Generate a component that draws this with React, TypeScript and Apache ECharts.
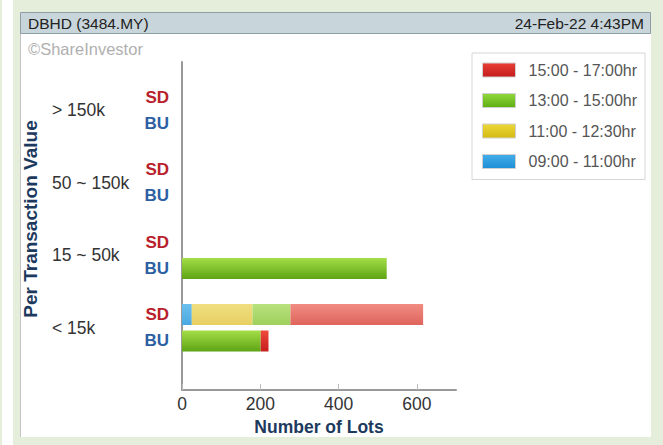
import React, { useEffect, useRef } from 'react';
import * as echarts from 'echarts';

const categories = ['> 150k', '50 ~ 150k', '15 ~ 50k', '< 15k'];
const periods = ['09:00 - 11:00hr', '11:00 - 12:30hr', '13:00 - 15:00hr', '15:00 - 17:00hr'];
const legendOrder = ['15:00 - 17:00hr', '13:00 - 15:00hr', '11:00 - 12:30hr', '09:00 - 11:00hr'];

// Sell Down (SD) lots per period
const sd0900 = [0, 0, 0, 25];
const sd1100 = [0, 0, 0, 155];
const sd1300 = [0, 0, 0, 97];
const sd1500 = [0, 0, 0, 339];
// Buy Up (BU) lots per period
const bu0900 = [0, 0, 0, 0];
const bu1100 = [0, 0, 0, 0];
const bu1300 = [0, 0, 523, 201];
const bu1500 = [0, 0, 0, 20];

const xTicks = [0, 200, 400, 600];
const xMax = 700;

const FONT = '"Liberation Sans", Arial, sans-serif';

const grad = (a: string, b: string) =>
  new echarts.graphic.LinearGradient(0, 0, 0, 1, [
    { offset: 0, color: a },
    { offset: 1, color: b },
  ]);

const buColors: [string, string][] = [
  ['#45b0ec', '#1f8fd6'],
  ['#eedb40', '#d8be12'],
  ['#a4de48', '#5ea414'],
  ['#ee4a3c', '#c61e1e'],
];
const sdColors: [string, string][] = [
  ['#6cc0ee', '#4aa8e0'],
  ['#f0de80', '#e6cf62'],
  ['#b8e27e', '#9ed05c'],
  ['#f08c82', '#df645c'],
];
const legendColors: Record<string, [string, string]> = {
  '15:00 - 17:00hr': ['#e84036', '#c41c1c'],
  '13:00 - 15:00hr': ['#92d83c', '#5eae12'],
  '11:00 - 12:30hr': ['#ecd83a', '#d4ba10'],
  '09:00 - 11:00hr': ['#44aeea', '#1e8ed6'],
};

export default function App() {
  const ref = useRef<HTMLDivElement>(null);

  useEffect(() => {
    if (!ref.current) return;
    const chart = echarts.init(ref.current, null, { renderer: 'svg' });
    const sdData = [sd0900, sd1100, sd1300, sd1500];
    const buData = [bu0900, bu1100, bu1300, bu1500];

    const series: any[] = [
      ...periods.map((p, i) => ({
        type: 'bar',
        name: p,
        stack: 'SD',
        xAxisIndex: 1,
        yAxisIndex: 1,
        barWidth: 21,
        barGap: '26%',
        data: sdData[i],
        itemStyle: { color: grad(sdColors[i][0], sdColors[i][1]) },
        emphasis: { disabled: true },
      })),
      ...periods.map((p, i) => ({
        type: 'bar',
        name: p,
        stack: 'BU',
        xAxisIndex: 1,
        yAxisIndex: 1,
        barWidth: 21,
        barGap: '26%',
        data: buData[i],
        itemStyle: { color: grad(buColors[i][0], buColors[i][1]) },
        emphasis: { disabled: true },
      })),
    ];

    chart.setOption({
      animation: false,
      backgroundColor: '#e4eedb',
      textStyle: { fontFamily: FONT },
      graphic: [
        { type: 'rect', z: -10, shape: { x: 2, y: 0, width: 11, height: 445 }, style: { fill: '#ffffff' } },
        { type: 'rect', z: -10, shape: { x: 20, y: 12, width: 631, height: 425 }, style: { fill: '#ffffff' } },
        { type: 'line', z: -9, shape: { x1: 20.5, y1: 33, x2: 20.5, y2: 437 }, style: { stroke: '#c4c4c4', lineWidth: 1 } },
        { type: 'rect', z: -9, shape: { x: 20.5, y: 12.5, width: 630, height: 21 }, style: { fill: '#c8d5db', stroke: '#8f9ea6', lineWidth: 1 } },
        { type: 'text', z: -8, x: 28, y: 23.5, style: { text: 'DBHD (3484.MY)', fill: '#222', fontSize: 15.5, fontFamily: FONT, verticalAlign: 'middle', align: 'left' } },
        { type: 'text', z: -8, x: 644, y: 23.5, style: { text: '24-Feb-22 4:43PM', fill: '#222', fontSize: 15.5, fontFamily: FONT, verticalAlign: 'middle', align: 'right' } },
        { type: 'text', z: -8, x: 28, y: 49, style: { text: '©ShareInvestor', fill: '#b0b0b0', fontSize: 16.5, fontFamily: FONT, verticalAlign: 'middle', align: 'left' } },
      ],
      legend: {
        orient: 'vertical',
        left: 472,
        top: 53,
        padding: [9, 8, 10, 10],
        itemWidth: 33,
        itemHeight: 14,
        itemGap: 14.5,
        icon: 'rect',
        backgroundColor: '#ffffff',
        borderColor: '#d6d6d6',
        borderWidth: 1,
        selectedMode: false,
        textStyle: { fontSize: 16, color: '#555', fontFamily: FONT, lineHeight: 16, padding: [0, 0, 0, 8] },
        data: legendOrder.map((n) => ({
          name: n,
          itemStyle: { color: grad(legendColors[n][0], legendColors[n][1]), borderColor: '#d0d0d0', borderWidth: 1 },
        })),
      },
      grid: [
        { left: 182, top: 62, width: 274, height: 328 },
        { left: 182, top: 74, width: 274, height: 290 },
      ],
      xAxis: [
        {
          gridIndex: 0,
          type: 'value',
          min: 0,
          max: xMax,
          axisLine: { show: true, lineStyle: { color: '#999', width: 2 } },
          axisTick: { show: true, inside: true, length: 6, customValues: xTicks, lineStyle: { color: '#bbb' } },
          axisLabel: { customValues: xTicks, fontSize: 17.5, color: '#333', margin: 5, fontFamily: FONT },
          splitLine: { show: false },
          name: 'Number of Lots',
          nameLocation: 'middle',
          nameGap: 26,
          nameTextStyle: { fontSize: 17.5, fontWeight: 'bold', color: '#1d3a5e', fontFamily: FONT },
        },
        { gridIndex: 1, type: 'value', min: 0, max: xMax, show: false },
      ],
      yAxis: [
        {
          gridIndex: 0,
          type: 'value',
          position: 'left',
          min: 0,
          max: 1,
          axisLine: { show: true, lineStyle: { color: '#999', width: 2 } },
          axisTick: { show: false },
          axisLabel: { show: false },
          splitLine: { show: false },
        },
        {
          gridIndex: 1,
          type: 'category',
          position: 'left',
          data: categories,
          inverse: true,
          axisLine: { show: false },
          axisTick: { show: false },
          axisLabel: { fontSize: 17.5, color: '#333', align: 'left', margin: 130, fontFamily: FONT },
          name: 'Per Transaction Value',
          nameLocation: 'middle',
          nameGap: 142,
          nameTextStyle: { fontSize: 19, fontWeight: 'bold', color: '#1d3a5e', fontFamily: FONT },
        },
        {
          gridIndex: 1,
          type: 'category',
          position: 'left',
          offset: 0,
          data: categories,
          inverse: true,
          axisLine: { show: false },
          axisTick: { show: false },
          axisLabel: {
            margin: 13,
            align: 'right',
            formatter: () => '{sd|SD}\n{bu|BU}',
            rich: {
              sd: { color: '#b8212b', fontWeight: 'bold', fontSize: 17, lineHeight: 26, fontFamily: FONT },
              bu: { color: '#2c60a2', fontWeight: 'bold', fontSize: 17, lineHeight: 26, fontFamily: FONT },
            },
          },
        },
      ],
      series,
    });

    return () => chart.dispose();
  }, []);

  return (
    <div
      ref={ref}
      style={{ position: 'fixed', left: 0, top: 0, width: 663, height: 445 }}
    />
  );
}
